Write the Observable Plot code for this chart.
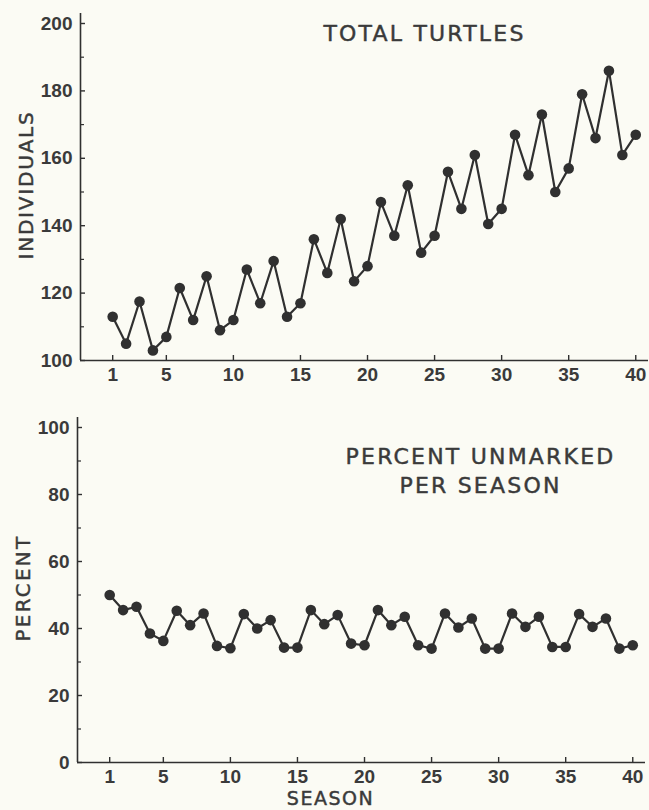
<!DOCTYPE html>
<html>
<head>
<meta charset="utf-8">
<script src="https://cdn.jsdelivr.net/npm/d3@7"></script>
<script src="https://cdn.jsdelivr.net/npm/@observablehq/plot@0.6"></script>
<style>
  html, body { margin: 0; padding: 0; background: #fbfbf4; }
  #chart { width: 649px; height: 810px; position: relative; overflow: hidden; background: #fbfbf4; }
  #chart svg { display: block; }
</style>
</head>
<body>
<div id="chart"></div>
<script>
// ---- data ----
const seasons = [1,2,3,4,5,6,7,8,9,10,11,12,13,14,15,16,17,18,19,20,21,22,23,24,25,26,27,28,29,30,31,32,33,34,35,36,37,38,39,40];
const totalTurtles = [113, 105, 117.5, 103, 107, 121.5, 112, 125, 109, 112, 127, 117, 129.5, 113, 117, 136, 126, 142, 123.5, 128,
                      147, 137, 152, 132, 137, 156, 145, 161, 140.5, 145, 167, 155, 173, 150, 157, 179, 166, 186, 161, 167];
const percentUnmarked = [50, 45.5, 46.5, 38.5, 36.3, 45.3, 41, 44.5, 34.8, 34.1, 44.3, 40, 42.5, 34.3, 34.3, 45.5, 41.3, 44, 35.5, 35,
                         45.5, 41, 43.5, 35, 34, 44.5, 40.3, 43, 34, 34, 44.5, 40.5, 43.5, 34.5, 34.5, 44.3, 40.5, 43, 34, 35];
const seasonTicks = [1, 5, 10, 15, 20, 25, 30, 35, 40];
const individualsTicks = [100, 120, 140, 160, 180, 200];
const individualsMinor = [110, 130, 150, 170, 190];
const percentTicks = [0, 20, 40, 60, 80, 100];
const percentMinor = [10, 30, 50, 70, 90];
const topTitle = "TOTAL TURTLES";
const bottomTitle = "PERCENT UNMARKED\nPER SEASON";
const topYLabel = "INDIVIDUALS";
const bottomYLabel = "PERCENT";
const xLabel = "SEASON";

// ---- styling ----
const ink = "#303030";
const textInk = "#3a3a3a";
const letterFont = "'DejaVu Sans', sans-serif";
const tickFont = "'Liberation Sans', Arial, sans-serif";
const xDomain = [-1.4, 40.95];

const topRows = seasons.map((s, i) => ({season: s, value: totalTurtles[i]}));
const bottomRows = seasons.map((s, i) => ({season: s, value: percentUnmarked[i]}));

const lettering = {fontFamily: letterFont, fill: textInk, stroke: textInk, strokeWidth: 0.45, paintOrder: "stroke"};
const spacing = new Map([
  [topTitle.replace(/\n/g, ""), "2.2px"],
  [bottomTitle.replace(/\n/g, ""), "2.2px"],
  [topYLabel, "1.8px"],
  [bottomYLabel, "2.2px"],
  [xLabel, "1.5px"]
]);

function panel({rows, yDomain, yTicks, yMinor, width, height, margins, title, titleDx, titleDy, yLabel, yLabelDx, yLabelDy, withXLabel}) {
  const marks = [
    Plot.ruleY([yDomain[0]], {stroke: ink, strokeWidth: 1.6}),
    Plot.ruleX([xDomain[0]], {y1: yDomain[0], y2: yDomain[1] + (yDomain[1] - yDomain[0]) * 0.03, stroke: ink, strokeWidth: 1.6}),
    Plot.axisX(seasonTicks, {anchor: "bottom", tickSize: -5, tickPadding: 12, fontSize: 19, fontWeight: "bold", fontFamily: tickFont, fill: textInk, stroke: ink, strokeWidth: 1.4, label: null}),
    Plot.axisY(yTicks, {anchor: "left", tickSize: -5, tickPadding: 13, fontSize: 19, fontWeight: "bold", fontFamily: tickFont, fill: textInk, stroke: ink, strokeWidth: 1.4, label: null}),
    Plot.axisY(yMinor, {anchor: "left", tickSize: -4, tickFormat: () => "", stroke: ink, strokeWidth: 1.2, label: null}),
    Plot.line(rows, {x: "season", y: "value", stroke: ink, strokeWidth: 2.2}),
    Plot.dot(rows, {x: "season", y: "value", r: 5.3, fill: ink, stroke: "none"}),
    Plot.text([title], {...lettering, frameAnchor: "top", textAnchor: "middle", dx: titleDx, dy: titleDy, text: d => d, fontSize: 22, lineAnchor: "middle", lineHeight: 1.32}),
    Plot.text([yLabel], {...lettering, frameAnchor: "left", textAnchor: "middle", rotate: -90, dx: yLabelDx, dy: yLabelDy, text: d => d, fontSize: 20, lineAnchor: "middle"})
  ];
  if (withXLabel) {
    marks.push(Plot.text([xLabel], {...lettering, frameAnchor: "bottom", textAnchor: "middle", dx: -31, dy: 36, text: d => d, fontSize: 19, lineAnchor: "middle"}));
  }
  const svg = Plot.plot({
    width, height,
    marginLeft: margins[0], marginRight: margins[1], marginTop: margins[2], marginBottom: margins[3],
    style: {background: "transparent", color: ink, overflow: "visible"},
    x: {domain: xDomain},
    y: {domain: yDomain},
    marks
  });
  d3.select(svg).selectAll("text").each(function () {
    const ls = spacing.get(this.textContent);
    if (ls) this.setAttribute("letter-spacing", ls);
  });
  return svg;
}

const chart = document.getElementById("chart");
chart.append(panel({
  rows: topRows, yDomain: [100, 200], yTicks: individualsTicks, yMinor: individualsMinor,
  width: 649, height: 400, margins: [80, 1, 23, 40],
  title: topTitle, titleDx: 60, titleDy: 8,
  yLabel: topYLabel, yLabelDx: -54, yLabelDy: -7, withXLabel: false
}));
chart.append(panel({
  rows: bottomRows, yDomain: [0, 100], yTicks: percentTicks, yMinor: percentMinor,
  width: 649, height: 410, margins: [77, 4, 27, 48],
  title: bottomTitle, titleDx: 119, titleDy: 42,
  yLabel: bottomYLabel, yLabelDx: -54, yLabelDy: -7, withXLabel: true
}));
</script>
</body>
</html>
